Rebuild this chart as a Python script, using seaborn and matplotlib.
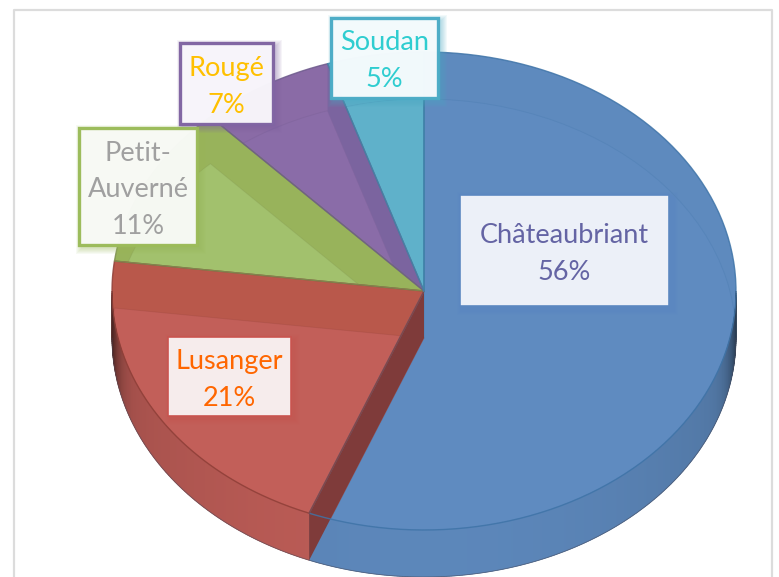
import numpy as np
import matplotlib
matplotlib.use("Agg")
import matplotlib.pyplot as plt
from matplotlib.patches import Rectangle
import seaborn as sns

categories = ["Châteaubriant", "Lusanger", "Petit-\nAuverné", "Rougé", "Soudan"]
values = [56, 21, 11, 7, 5]
face_colors = ["#5f8bc0", "#c25f59", "#a2c16d", "#8a6ca8", "#5fb1ca"]
band_colors = ["#5e8abe", "#b9584b", "#98b35b", "#8a6ba6", "#5eaec8"]
edge_colors = ["#3f74a8", "#8f3f38", "#7d8f50", "#6d5a8c", "#3f86a8"]
text_colors = ["#6464a4", "#ff6600", "#a0a0a0", "#ffc000", "#2fcdd0"]
box_edges = ["#5b87c0", "#c9544f", "#9bbb59", "#8064a2", "#4bacc6"]
box_fills = ["#f0f3fa", "#f8f0f0", "#f8faf6", "#f8f6fb", "#f5fbfd"]
# label boxes: left, top, right, bottom in pixels
box_px = [(460, 195, 669, 306), (168, 337, 291, 416), (79, 128, 197, 245),
          (180, 43, 273, 124), (331, 18, 438, 98)]
box_lw = [1.2, 1.2, 2.4, 2.4, 2.4]
paint_order = [0, 4, 3, 2, 1]  # back to front, each slice hides the spill of the one before

W, H = 779, 577
CX, CY, RX, RY, DEPTH = 424, 291, 312, 239, 47
d = DEPTH / RY

sns.set_theme(style="white")
plt.rcParams["font.family"] = ["Lato", "DejaVu Sans"]

fig = plt.figure(figsize=(W / 100, H / 100), dpi=100, facecolor="white")
ax = fig.add_axes([0, 0, 1, 1])

# top face of the disc
top, _ = ax.pie(values, startangle=90, counterclock=False, radius=1, colors=band_colors,
                wedgeprops=dict(linewidth=0))
# lower face seen through the disc
low, _ = ax.pie(values, startangle=90, counterclock=False, radius=1, center=(0, -d),
                colors=face_colors, wedgeprops=dict(linewidth=0.7))
for rank, i in enumerate(paint_order):
    top[i].set_zorder(2 + 2 * rank)
    low[i].set_zorder(3 + 2 * rank)
    low[i].set_edgecolor(matplotlib.colors.to_rgba(edge_colors[i], 0.22))

stops = np.cumsum([0] + values) / sum(values) * 2 * np.pi


def shade(color, f):
    return tuple(np.clip(np.array(matplotlib.colors.to_rgb(color)) * f, 0, 1))


# outer wall along the front of the disc
for i, c in enumerate(face_colors):
    a0, a1 = max(stops[i], np.pi / 2), min(stops[i + 1], 3 * np.pi / 2)
    if a1 <= a0:
        continue
    th = np.linspace(a0, a1, int((a1 - a0) * 120) + 2)
    for t0, t1 in zip(th[:-1], th[1:]):
        sx = abs(np.sin((t0 + t1) / 2))
        f = 0.97 - 0.12 * sx ** 2 - 0.45 * sx ** 40
        xs = [np.sin(t0), np.sin(t1), np.sin(t1), np.sin(t0)]
        ys = [np.cos(t0), np.cos(t1), np.cos(t1) - d, np.cos(t0) - d]
        ax.fill(xs, ys, color=shade(c, f), lw=0.4, zorder=20)

# inner radial walls: Lusanger against the front slice, Rougé against Soudan
a = stops[1]
ax.fill([0, 0, np.sin(a), np.sin(a)], [0, -d, np.cos(a) - d, np.cos(a)],
        color="#7f3b3a", lw=0, zorder=21)
a = stops[4]
ax.fill([0, 0, np.sin(a), np.sin(a)], [0, -d, np.cos(a) - d, np.cos(a)],
        color="#7b649f", lw=0, zorder=7.5)

# outlines
for i, e in enumerate(edge_colors):
    th = np.linspace(stops[i], stops[i + 1], 200)
    ax.plot(np.r_[0, np.sin(th), 0], np.r_[0, np.cos(th), 0], color=e, lw=1.0,
            alpha=0.85, zorder=22, solid_joinstyle="round")
th = np.linspace(np.pi / 2, 3 * np.pi / 2, 400)
ax.plot(np.sin(th), np.cos(th) - d, color="#4a4a5a", lw=0.6, alpha=0.6, zorder=22)

ax.set_aspect("auto")
ax.set_xlim(-CX / RX, (W - CX) / RX)
ax.set_ylim((CY - H) / RY, CY / RY)
ax.axis("off")

# overlay in pixel coordinates for frame and data labels
ov = fig.add_axes([0, 0, 1, 1], facecolor="none")
ov.set_xlim(0, W)
ov.set_ylim(H, 0)
ov.axis("off")
ov.plot([14, 14, 772, 772], [H, 10, 10, H], color="#dcdcdc", lw=1.6, zorder=1)

for name, v, tc, be, bf, (l, t, r, b), lw in zip(categories, values, text_colors, box_edges,
                                                 box_fills, box_px, box_lw):
    for k in range(6, 0, -1):
        ov.add_patch(Rectangle((l + 3 - k, t + 3 - k), r - l + 2 * k, b - t + 2 * k,
                               facecolor=be, edgecolor="none", alpha=0.07, zorder=7))
    ov.add_patch(Rectangle((l, t), r - l, b - t, facecolor=bf, edgecolor=be, lw=lw,
                           alpha=0.98, zorder=8))
    ov.text((l + r) / 2, (t + b) / 2 + 3.3, f"{name}\n{v}%",
            ha="center", va="center", color=tc, fontsize=19.5, linespacing=1.58, zorder=9)

fig.savefig("out.png", dpi=100, facecolor="white")
